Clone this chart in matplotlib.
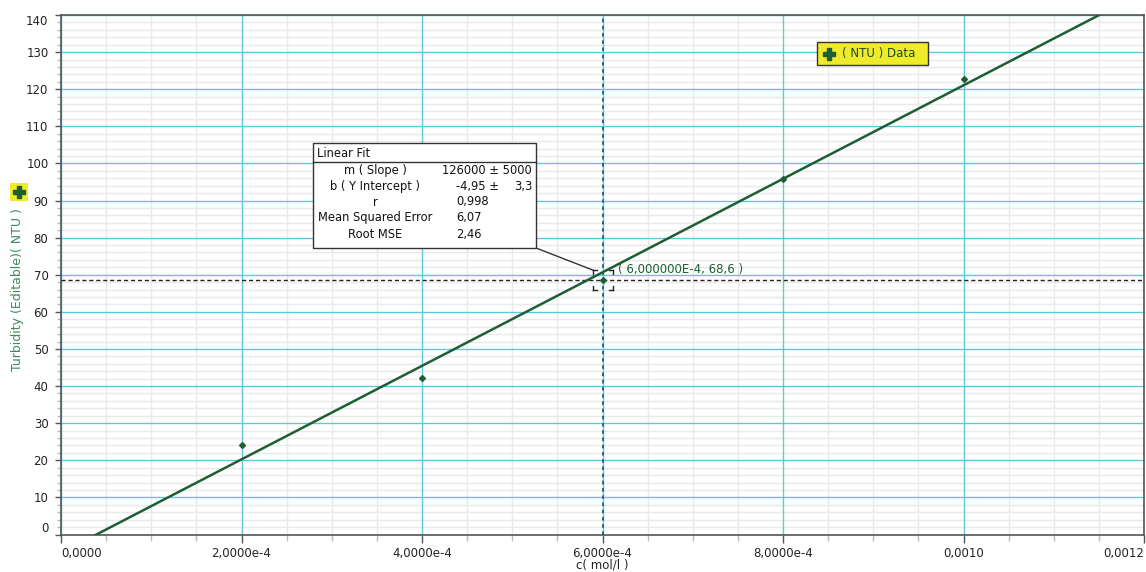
import numpy as np
import matplotlib.pyplot as plt
from matplotlib.ticker import FixedLocator
from matplotlib.lines import Line2D
from matplotlib.patches import Rectangle
from matplotlib.transforms import IdentityTransform

# measured turbidity vs. concentration
conc = [2e-4, 4e-4, 6e-4, 8e-4, 10e-4]
turb = [24.0, 42.3, 68.6, 95.8, 122.7]

# linear fit results
slope, slope_err = 126000, 5000
intercept, intercept_err = -4.95, 3.3
r_val = 0.998
mse = 6.07
rmse = 2.46

# examine cursor
exam_x, exam_y = 6e-4, 68.6

x_ticks = [0, 2e-4, 4e-4, 6e-4, 8e-4, 10e-4, 12e-4]
x_labels = ['0,0000', '2,0000e-4', '4,0000e-4', '6,0000e-4', '8,0000e-4', '0,0010', '0,0012']
y_ticks = list(range(0, 141, 10))

W, H = 1146, 572
GREEN = '#1e5e35'
LABEL_GREEN = '#3a8a5c'
CYAN = '#5ecad9'
MINOR = '#e9e9e9'
YELLOW = '#efea2a'

plt.rcParams['font.family'] = 'DejaVu Sans'


def fx(x):
    return x / W


def fy(y):
    return 1 - y / H


fig = plt.figure(figsize=(W / 100, H / 100), dpi=100)
ax = fig.add_axes([fx(61), fy(534.5), fx(1144) - fx(61), fy(15) - fy(534.5)])

ax.set_xlim(0, 0.0012)
ax.set_ylim(0, 140)

# minor lines only between the major ones
x_minor = [i * 0.5e-4 for i in range(25) if i % 4]
y_minor = [v for v in range(0, 141, 2) if v % 10]
ax.xaxis.set_major_locator(FixedLocator(x_ticks))
ax.xaxis.set_minor_locator(FixedLocator(x_minor))
ax.yaxis.set_major_locator(FixedLocator(y_ticks))
ax.yaxis.set_minor_locator(FixedLocator(y_minor))

# grid drawn by hand so the major lines sit over all minor ones
ax.vlines(x_minor, 0, 140, color=MINOR, lw=1.0, zorder=0.2)
ax.hlines(y_minor, 0, 0.0012, color=MINOR, lw=1.0, zorder=0.2)
ax.vlines(x_ticks, 0, 140, color=CYAN, lw=1.0, zorder=0.4)
ax.hlines(y_ticks, 0, 0.0012, color=CYAN, lw=1.0, zorder=0.4)

ax.set_xticklabels(x_labels)
xl = ax.get_xticklabels()
for lab in xl:
    lab.set_fontsize(8.5)
    lab.set_color('#222222')
xl[0].set_horizontalalignment('left')
xl[-1].set_horizontalalignment('right')

ax.set_yticklabels([str(v) for v in y_ticks])
yl = ax.get_yticklabels()
for lab in yl:
    lab.set_fontsize(8.5)
    lab.set_color('#222222')
yl[0].set_verticalalignment('bottom')
yl[-1].set_verticalalignment('top')

ax.tick_params(axis='x', which='major', length=6, width=1, color='#555555', pad=3)
ax.tick_params(axis='x', which='minor', length=4, width=1, color='#bbbbbb')
ax.tick_params(axis='y', which='major', length=4, width=1, color='#555555', pad=5)
ax.tick_params(axis='y', which='minor', length=3, width=1, color='#bbbbbb')
for sp in ax.spines.values():
    sp.set_color('#555555')
    sp.set_linewidth(1.2)

# fit line and data
xs = np.array([0, 0.0012])
ax.plot(xs, slope * xs + intercept, color=GREEN, lw=1.8, zorder=4,
        solid_capstyle='butt')
ax.plot(conc, turb, ls='none', marker='D', ms=3, color=GREEN, zorder=5)

# examine cursor lines
ax.axvline(exam_x, color='#1c5f7e', lw=1.3, ls=(0, (2, 2)), zorder=3)
ax.axhline(exam_y, color='#222222', lw=1.0, ls=(0, (3, 2)), zorder=3)

fig.text(fx(602), fy(565), 'c( mol/l )', fontsize=8.5, color='#222222',
         ha='center', va='center')

# bracket around the examined point
fig.canvas.draw()
cx, cy = ax.transData.transform((exam_x, exam_y))
d, s = 10, 4
for sx in (-1, 1):
    for sy in (-1, 1):
        px, py = cx + sx * d, cy + sy * d
        fig.add_artist(Line2D([px, px - sx * s], [py, py], color='#222222', lw=1,
                              transform=IdentityTransform()))
        fig.add_artist(Line2D([px, px], [py, py - sy * s], color='#222222', lw=1,
                              transform=IdentityTransform()))

ax.annotate(f'( 6,000000E-4, {exam_y:.1f} )'.replace('.', ','), xy=(exam_x, exam_y),
            xytext=(15, 10), textcoords='offset pixels', fontsize=8.5,
            color=GREEN, va='center', ha='left', zorder=6)

# linear fit box
bx0, bx1, by0, by1 = 313, 536, 143, 248
fig.add_artist(Rectangle((fx(bx0), fy(by1)), fx(bx1) - fx(bx0), fy(by0) - fy(by1),
                         transform=fig.transFigure, facecolor='white',
                         edgecolor='#333333', lw=1.0, zorder=10))
fig.add_artist(Line2D([fx(bx0), fx(bx1)], [fy(162), fy(162)], color='#333333', lw=1.0,
                      transform=fig.transFigure, zorder=11))
fig.add_artist(Line2D([fx(bx1), fx(cx - d)], [fy(by1), fy(H - (cy + d))],
                      color='#333333', lw=1.0, transform=fig.transFigure, zorder=9))
fig.text(fx(317), fy(154), 'Linear Fit', fontsize=8.3, ha='left', va='center',
         color='#111111', zorder=12)


def fmt(v, nd):
    return f'{v:.{nd}f}'.replace('.', ',')


rows = [
    ('m ( Slope )', f'{slope} ± {slope_err}', None),
    ('b ( Y Intercept )', f'{fmt(intercept, 2)} ±', fmt(intercept_err, 1)),
    ('r', fmt(r_val, 3), None),
    ('Mean Squared Error', fmt(mse, 2), None),
    ('Root MSE', fmt(rmse, 2), None),
]
row_y = [170.5, 186.5, 202, 218, 234]
for (name, val, extra), ry in zip(rows, row_y):
    fig.text(fx(375.5), fy(ry), name, fontsize=8.3, ha='center', va='center',
             color='#111111', zorder=12)
    if extra is None:
        if '±' in val:
            fig.text(fx(532), fy(ry), val, fontsize=8.3, ha='right', va='center',
                     color='#111111', zorder=12)
        else:
            fig.text(fx(456), fy(ry), val, fontsize=8.3, ha='left', va='center',
                     color='#111111', zorder=12)
    else:
        fig.text(fx(499), fy(ry), val, fontsize=8.3, ha='right', va='center',
                 color='#111111', zorder=12)
        fig.text(fx(532), fy(ry), extra, fontsize=8.3, ha='right', va='center',
                 color='#111111', zorder=12)

# legend
fig.add_artist(Rectangle((fx(817), fy(65)), fx(928) - fx(817), fy(42) - fy(65),
                         transform=fig.transFigure, facecolor=YELLOW,
                         edgecolor='#333333', lw=1.0, zorder=10))
fig.add_artist(Line2D([fx(829)], [fy(53.5)], marker='P', ms=8, color=GREEN,
                      mec=GREEN, transform=fig.transFigure, zorder=11))
fig.text(fx(842), fy(54), '( NTU ) Data', fontsize=8.5, ha='left', va='center',
         color='#1d4a2c', zorder=12)

# y label with its series badge
fig.add_artist(Rectangle((fx(10), fy(201)), fx(18), fy(183) - fy(201),
                         transform=fig.transFigure, facecolor=YELLOW,
                         edgecolor='none', zorder=10))
fig.add_artist(Line2D([fx(19)], [fy(192)], marker='P', ms=8, color=GREEN,
                      mec=GREEN, transform=fig.transFigure, zorder=11))
fig.text(fx(18), fy(290), 'Turbidity (Editable)( NTU )', fontsize=9, rotation=90,
         ha='center', va='center', color=LABEL_GREEN)

fig.savefig('out.png', dpi=100)
